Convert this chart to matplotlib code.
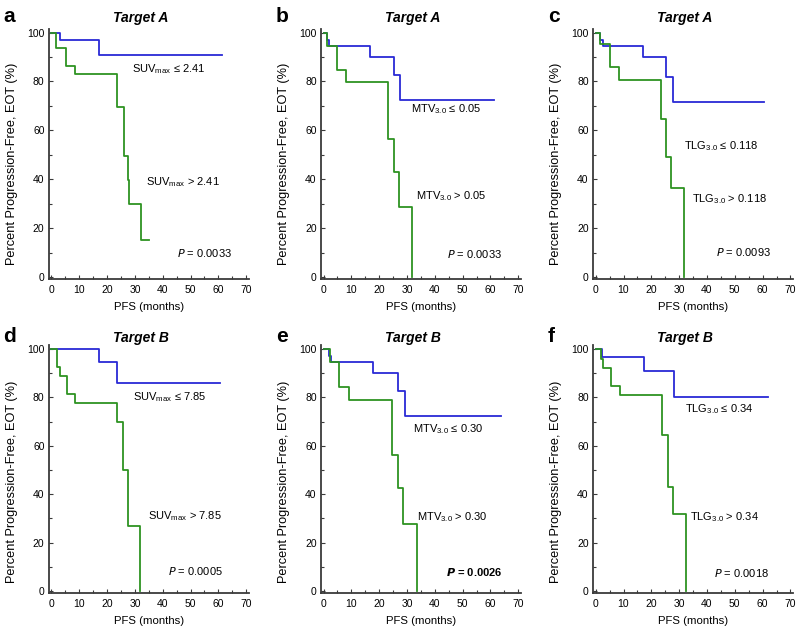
import matplotlib
matplotlib.use("Agg")
import matplotlib.pyplot as plt
from matplotlib.ticker import MultipleLocator

plt.rcParams['font.family'] = ['Liberation Sans', 'DejaVu Sans']

panel_letters = ["a", "b", "c", "d", "e", "f"]
panel_titles = ["Target A", "Target A", "Target A", "Target B", "Target B", "Target B"]

# Kaplan-Meier step data: drop times (months) and survival after each drop (%)
a_blue_t = [3.0, 17.0];                         a_blue_s = [97.0, 91.0];                     a_blue_end = 61.2
a_green_t = [1.8, 5.4, 8.4, 23.7, 26.0, 27.6, 27.9, 32.3]
a_green_s = [93.5, 86.5, 83.0, 69.5, 49.5, 39.7, 30.0, 15.0];                              a_green_end = 35.0

b_blue_t = [1.1, 2.0, 16.8, 25.4, 27.6];        b_blue_s = [97.0, 94.5, 90.0, 82.5, 72.5];   b_blue_end = 61.4
b_green_t = [1.1, 4.8, 8.0, 23.3, 25.4, 27.0, 31.8]
b_green_s = [94.5, 84.8, 79.7, 56.6, 42.8, 28.7, 0.0];                                     b_green_end = 31.8

c_blue_t = [1.6, 2.5, 17.0, 25.4, 27.8];        c_blue_s = [97.0, 94.5, 90.0, 81.7, 71.5];   c_blue_end = 60.6
c_green_t = [1.6, 5.2, 8.2, 23.3, 25.4, 27.2, 31.9]
c_green_s = [95.5, 85.8, 80.7, 64.5, 49.0, 36.5, 0.0];                                     c_green_end = 31.9

d_blue_t = [17.2, 23.6];                        d_blue_s = [94.5, 86.0];                     d_blue_end = 60.6
d_green_t = [2.0, 3.0, 5.6, 8.6, 23.6, 25.6, 27.5, 31.9]
d_green_s = [92.5, 88.7, 81.4, 77.5, 69.7, 49.9, 26.9, 0.0];                               d_green_end = 31.9

e_blue_t = [1.8, 2.8, 17.9, 26.9, 29.1];        e_blue_s = [97.3, 94.5, 90.1, 82.6, 72.5];   e_blue_end = 63.8
e_green_t = [2.2, 5.7, 9.0, 24.6, 26.9, 28.7, 33.5]
e_green_s = [94.5, 84.2, 79.0, 56.3, 42.6, 27.9, 0.0];                                     e_green_end = 33.5

f_blue_t = [2.1, 17.4, 28.1];                   f_blue_s = [96.6, 91.1, 80.1];               f_blue_end = 61.9
f_green_t = [2.0, 2.7, 5.6, 8.7, 24.0, 26.1, 27.9, 32.6]
f_green_s = [96.0, 92.2, 84.6, 80.8, 64.6, 43.0, 32.0, 0.0];                               f_green_end = 32.6

low_labels = ["SUV$_{\\mathregular{max}}$ \u2264 2.41", "MTV$_{\\mathregular{3.0}}$ \u2264 0.05", "TLG$_{\\mathregular{3.0}}$ \u2264 0.118",
              "SUV$_{\\mathregular{max}}$ \u2264 7.85", "MTV$_{\\mathregular{3.0}}$ \u2264 0.30", "TLG$_{\\mathregular{3.0}}$ \u2264 0.34"]
high_labels = ["SUV$_{\\mathregular{max}}$ > 2.41", "MTV$_{\\mathregular{3.0}}$ > 0.05", "TLG$_{\\mathregular{3.0}}$ > 0.118",
               "SUV$_{\\mathregular{max}}$ > 7.85", "MTV$_{\\mathregular{3.0}}$ > 0.30", "TLG$_{\\mathregular{3.0}}$ > 0.34"]
p_values = ["0.0033", "0.0033", "0.0093", "0.0005", "0.0026", "0.0018"]
p_bold = [False, False, False, False, True, False]

blue_curves = [(a_blue_t, a_blue_s, a_blue_end), (b_blue_t, b_blue_s, b_blue_end), (c_blue_t, c_blue_s, c_blue_end),
               (d_blue_t, d_blue_s, d_blue_end), (e_blue_t, e_blue_s, e_blue_end), (f_blue_t, f_blue_s, f_blue_end)]
green_curves = [(a_green_t, a_green_s, a_green_end), (b_green_t, b_green_s, b_green_end), (c_green_t, c_green_s, c_green_end),
                (d_green_t, d_green_s, d_green_end), (e_green_t, e_green_s, e_green_end), (f_green_t, f_green_s, f_green_end)]

# annotation positions (data coords)
low_pos = [(29, 85), (31.6, 68.5), (31.6, 53.5), (29.4, 80), (32.3, 67), (32, 75)]
high_pos = [(34, 38.7), (33.4, 33), (34.5, 31.8), (34.8, 31), (33.7, 30.6), (33.8, 30.5)]
p_pos = [(45, 9.9), (44.5, 9.5), (43.2, 10.3), (42, 8.3), (44, 7.9), (42.7, 7.4)]

BLUE = "#2a2ad6"
GREEN = "#2e9322"
SPINE = "#3a3a3a"

fig = plt.figure(figsize=(7.98, 6.28), dpi=100)
lefts = [0.061, 0.402, 0.743]
bottoms = [0.555, 0.055]
heights = [0.399, 0.395]
W = 0.251
head_y = [1.027, 1.012]
ylabel_y = [0.46, 0.45]

def km_xy(t, s, end):
    xs = [0.0] + list(t) + [end]
    ys = [100.0] + list(s) + [s[-1]]
    return xs, ys

for i in range(6):
    r, c = divmod(i, 3)
    ax = fig.add_axes([lefts[c], bottoms[r], W, heights[r]])
    bt, bs, be = blue_curves[i]
    gt, gs, ge = green_curves[i]
    x, y = km_xy(bt, bs, be)
    ax.step(x, y, where="post", color=BLUE, lw=1.3)
    x, y = km_xy(gt, gs, ge)
    ax.step(x, y, where="post", color=GREEN, lw=1.3)

    ax.set_xlim(-1, 71)
    ax.set_ylim(-1, 101.5)
    ax.xaxis.set_major_locator(MultipleLocator(10))
    ax.xaxis.set_minor_locator(MultipleLocator(5))
    ax.yaxis.set_major_locator(MultipleLocator(20))
    ax.yaxis.set_minor_locator(MultipleLocator(10))
    for sp in ["top", "right"]:
        ax.spines[sp].set_visible(False)
    for sp in ["left", "bottom"]:
        ax.spines[sp].set_color(SPINE)
        ax.spines[sp].set_linewidth(1.3)
    ax.tick_params(which="both", direction="in", color=SPINE, labelsize=7.5)
    ax.tick_params(axis="x", pad=4)
    ax.tick_params(axis="y", pad=3)
    ax.tick_params(which="major", length=3, width=0.8)
    ax.tick_params(which="minor", length=2, width=0.8)
    ax.set_xlabel("PFS (months)", fontsize=8.2, labelpad=5)
    ax.set_ylabel("Percent Progression-Free, EOT (%)", fontsize=9.2)
    ax.yaxis.set_label_coords(-0.155, ylabel_y[r])
    ax.text(0.46, head_y[r], panel_titles[i], transform=ax.transAxes, fontsize=10,
            fontweight="bold", fontstyle="italic", ha="center", va="baseline")
    ax.text(-0.225, head_y[r], panel_letters[i], transform=ax.transAxes, fontsize=15,
            fontweight="bold", ha="left", va="baseline")

    ax.text(*low_pos[i], low_labels[i], fontsize=8, ha="left", va="center")
    ax.text(*high_pos[i], high_labels[i], fontsize=8, ha="left", va="center")
    if p_bold[i]:
        ax.text(*p_pos[i], r"$\bfit{P}$ = " + p_values[i], fontsize=8, ha="left", va="center", fontweight="bold")
    else:
        ax.text(*p_pos[i], r"$\it{P}$ = " + p_values[i], fontsize=8, ha="left", va="center")

fig.savefig("out.png", dpi=100)
